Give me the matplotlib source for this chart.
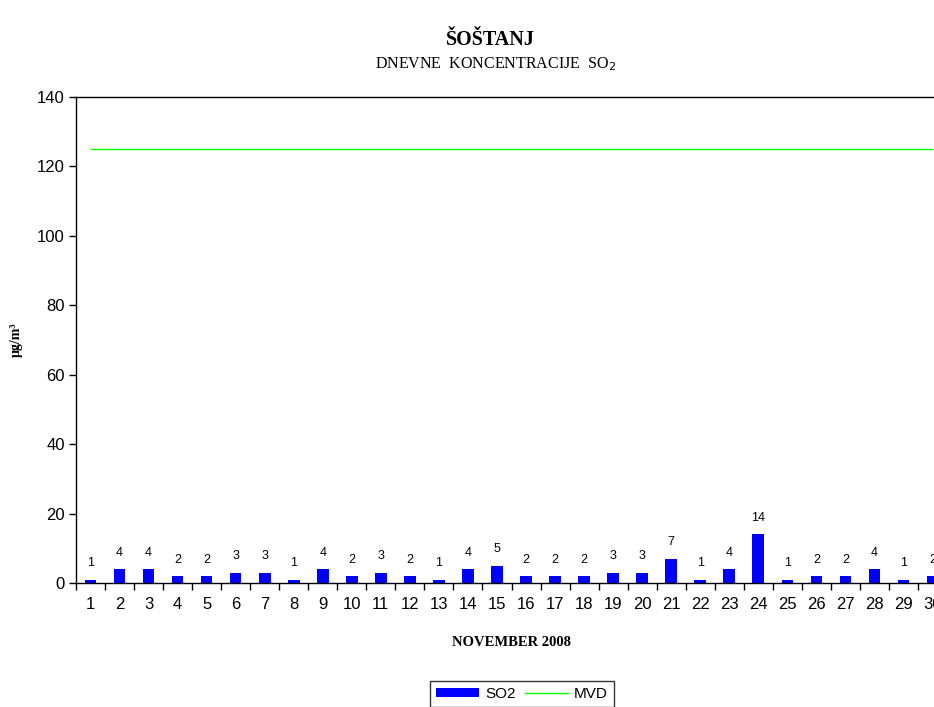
import matplotlib
matplotlib.use("Agg")
import matplotlib.pyplot as plt
from matplotlib.patches import Patch
from matplotlib.lines import Line2D

days = list(range(1, 31))
so2 = [1, 4, 4, 2, 2, 3, 3, 1, 4, 2, 3, 2, 1, 4, 5, 2, 2, 2, 3, 3, 7, 1, 4, 14, 1, 2, 2, 4, 1, 2]
mvd_limit = 125
yticks = [0, 20, 40, 60, 80, 100, 120, 140]

W, H = 934, 707
fig = plt.figure(figsize=(W / 100, H / 100), dpi=100)
fig.patch.set_facecolor("white")

left, right, top, bottom = 76, 947, 97, 583
ax = fig.add_axes([left / W, 1 - bottom / H, (right - left) / W, (bottom - top) / H])

x = list(range(len(days)))
ax.bar(x, so2, width=0.4, color="#0000FF", zorder=2)
ax.plot(x, [mvd_limit] * len(x), color="#00FF00", lw=1, zorder=3)

for xi, v in zip(x, so2):
    ax.text(xi, v + 3, f"{v}", ha="center", va="bottom", fontsize=9,
            family="Liberation Sans")

ax.set_xlim(-0.5, len(days) - 0.5)
ax.set_ylim(0, 140)
ax.set_yticks(yticks)
ax.set_yticklabels([str(t) for t in yticks], family="Liberation Sans", fontsize=12)
ax.set_xticks(x)
ax.set_xticklabels([str(d) for d in days], family="Liberation Sans", fontsize=12)
ax.set_xticks([i - 0.5 for i in range(len(days) + 1)], minor=True)
ax.tick_params(axis="x", which="major", length=0, pad=10)
ax.tick_params(axis="x", which="minor", length=5, direction="out", width=1)
ax.tick_params(axis="y", length=5, direction="out", width=1, pad=3)
for s in ax.spines.values():
    s.set_linewidth(1)
    s.set_color("black")

ax.set_ylabel("μg/m³", family="Liberation Serif", fontweight="bold", fontsize=10, labelpad=10)
ax.set_xlabel("NOVEMBER 2008", family="Liberation Serif", fontweight="bold", fontsize=10.5, labelpad=17)

fig.text(490 / W, 1 - 40 / H, "ŠOŠTANJ", ha="center", va="center",
         family="Liberation Serif", fontweight="bold", fontsize=14.5)
fig.text(496 / W, 1 - 64 / H, "DNEVNE  KONCENTRACIJE  SO$_2$", ha="center", va="center",
         family="Liberation Serif", fontsize=11.5)

handles = [Patch(facecolor="#0000FF", edgecolor="none"),
           Line2D([0], [0], color="#00FF00", lw=1)]
leg = fig.legend(handles, ["SO2", "MVD"], loc="center", bbox_to_anchor=(522 / W, 1 - 694 / H),
                 ncol=2, frameon=True, fancybox=False, edgecolor="black",
                 prop={"family": "Liberation Sans", "size": 11},
                 handlelength=2.8, handleheight=0.5, columnspacing=0.6, handletextpad=0.4,
                 borderpad=0.4)
leg.get_frame().set_linewidth(1)

fig.savefig("out.png", dpi=100)
